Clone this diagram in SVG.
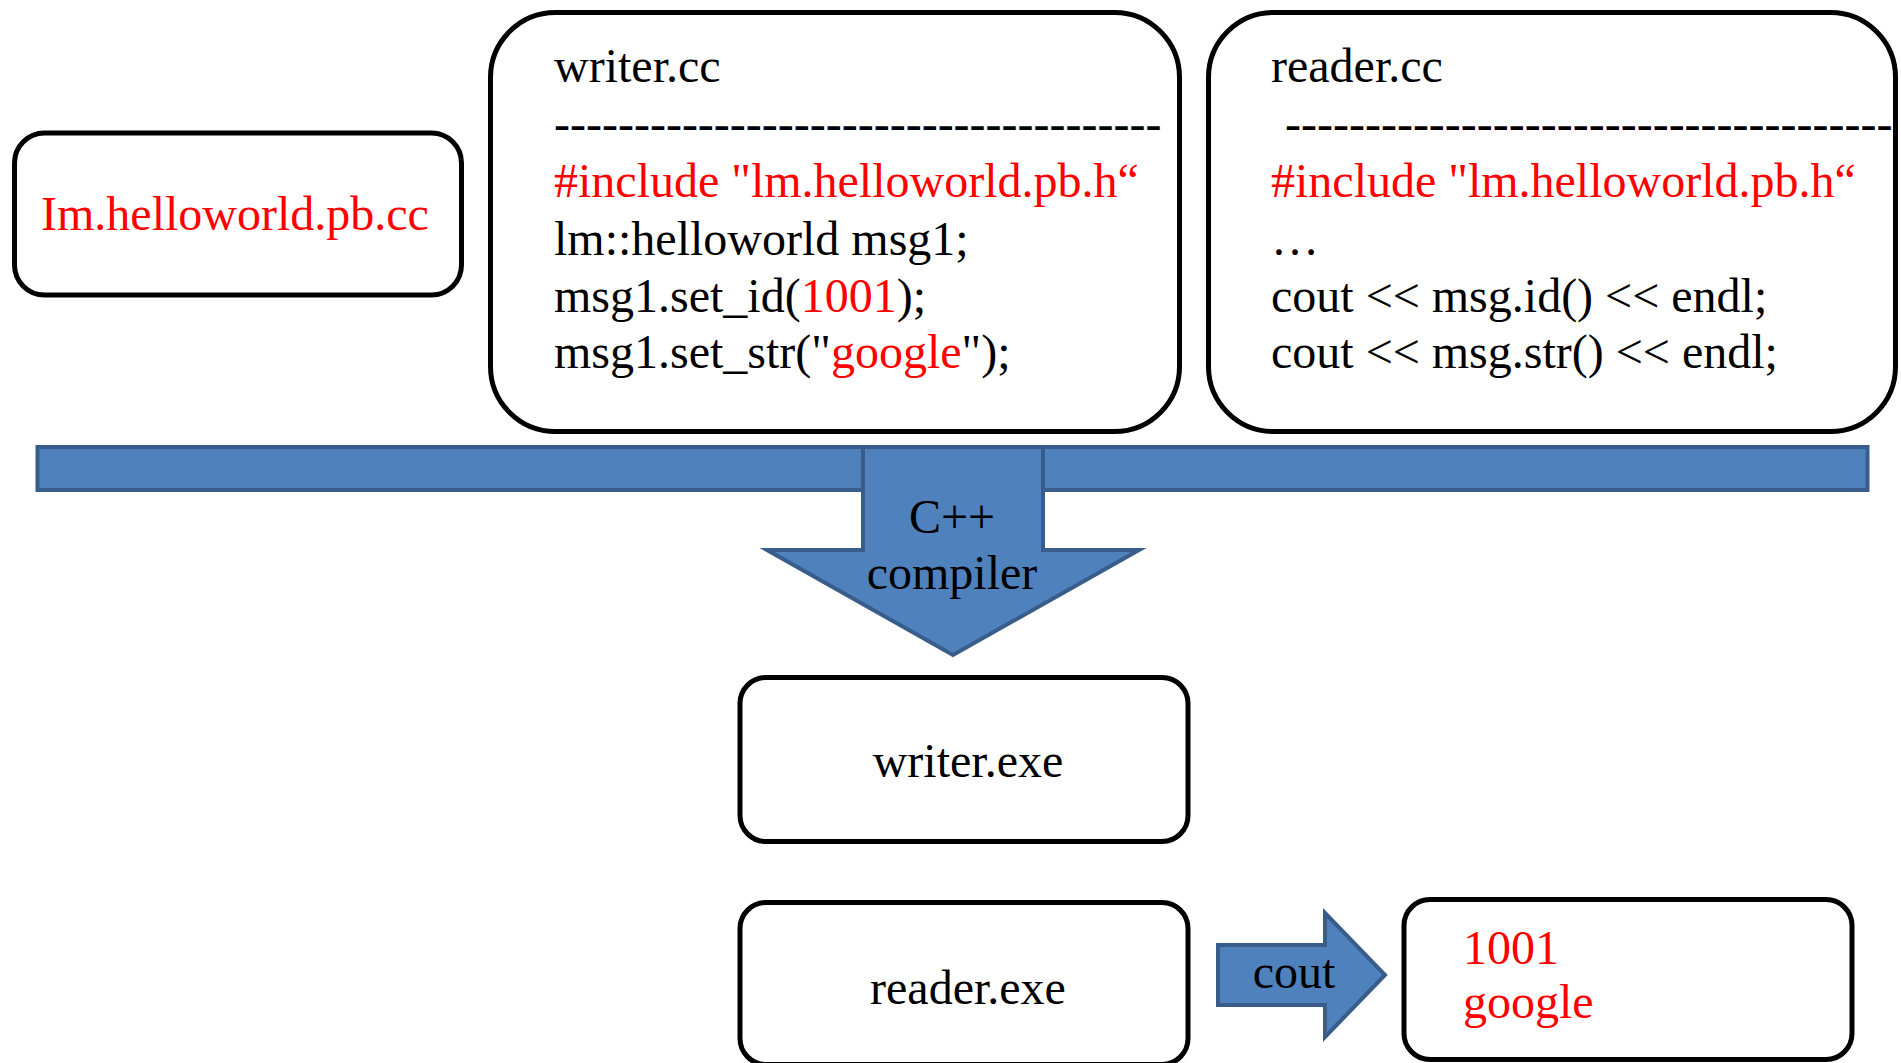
<svg xmlns="http://www.w3.org/2000/svg" width="1901" height="1063" viewBox="0 0 1901 1063">
  <style>
    .box { fill: #ffffff; stroke: #000000; stroke-width: 5; }
    .blk { fill: #4F81BD; stroke: #385D8A; stroke-width: 4; stroke-linejoin: miter; }
    text { font-family: "Liberation Serif", "Times New Roman", serif; font-size: 48px; fill: #000000; }
    .red { fill: #FF0000; }
    .mid { text-anchor: middle; }
  </style>
  <rect width="1901" height="1063" fill="#ffffff"/>

  <!-- generated protobuf source -->
  <g id="pb-source">
    <rect class="box" x="14.5" y="133" width="447" height="162" rx="30" ry="30"/>
    <text class="red" x="41" y="230">Im.helloworld.pb.cc</text>
  </g>

  <!-- writer source file -->
  <g id="writer-cc">
    <rect class="box" x="490.5" y="12.5" width="689" height="419" rx="65" ry="65"/>
    <text x="554" y="82">writer.cc</text>
    <text x="554" y="140">--------------------------------------</text>
    <text class="red" x="554" y="197">#include "lm.helloworld.pb.h“</text>
    <text x="554" y="255">lm::helloworld msg1;</text>
    <text x="554" y="312">msg1.set_id(<tspan class="red">1001</tspan>);</text>
    <text x="554" y="368">msg1.set_str("<tspan class="red">google</tspan>");</text>
  </g>

  <!-- reader source file -->
  <g id="reader-cc">
    <rect class="box" x="1208.5" y="12.5" width="687" height="419" rx="65" ry="65"/>
    <text x="1271" y="82">reader.cc</text>
    <text x="1285" y="140">--------------------------------------</text>
    <text class="red" x="1271" y="197">#include "lm.helloworld.pb.h“</text>
    <text x="1271" y="255">…</text>
    <text x="1271" y="312">cout &lt;&lt; msg.id() &lt;&lt; endl;</text>
    <text x="1271" y="368">cout &lt;&lt; msg.str() &lt;&lt; endl;</text>
  </g>

  <!-- compile step and output flow -->
  <g id="connectors">
    <rect class="blk" x="37.5" y="447" width="1830" height="43"/>
    <polygon class="blk" points="863,447 1043,447 1043,550 1139,550 953,655 767,550 863,550"/>
    <text class="mid" x="952" y="533">C++</text>
    <text class="mid" x="952" y="589">compiler</text>
    <polygon class="blk" points="1218,945 1325,945 1325,913 1385,975 1325,1037 1325,1005 1218,1005"/>
    <text class="mid" x="1294" y="988">cout</text>
  </g>

  <g id="writer-exe">
    <rect class="box" x="740" y="677.5" width="448" height="164" rx="26" ry="26"/>
    <text class="mid" x="968" y="777">writer.exe</text>
  </g>

  <g id="reader-exe">
    <rect class="box" x="740" y="902.5" width="448" height="162" rx="26" ry="26"/>
    <text class="mid" x="968" y="1004">reader.exe</text>
  </g>

  <g id="console-output">
    <rect class="box" x="1404" y="899.5" width="448" height="160" rx="26" ry="26"/>
    <text class="red" x="1463" y="964">1001</text>
    <text class="red" x="1463" y="1018">google</text>
  </g>
</svg>
